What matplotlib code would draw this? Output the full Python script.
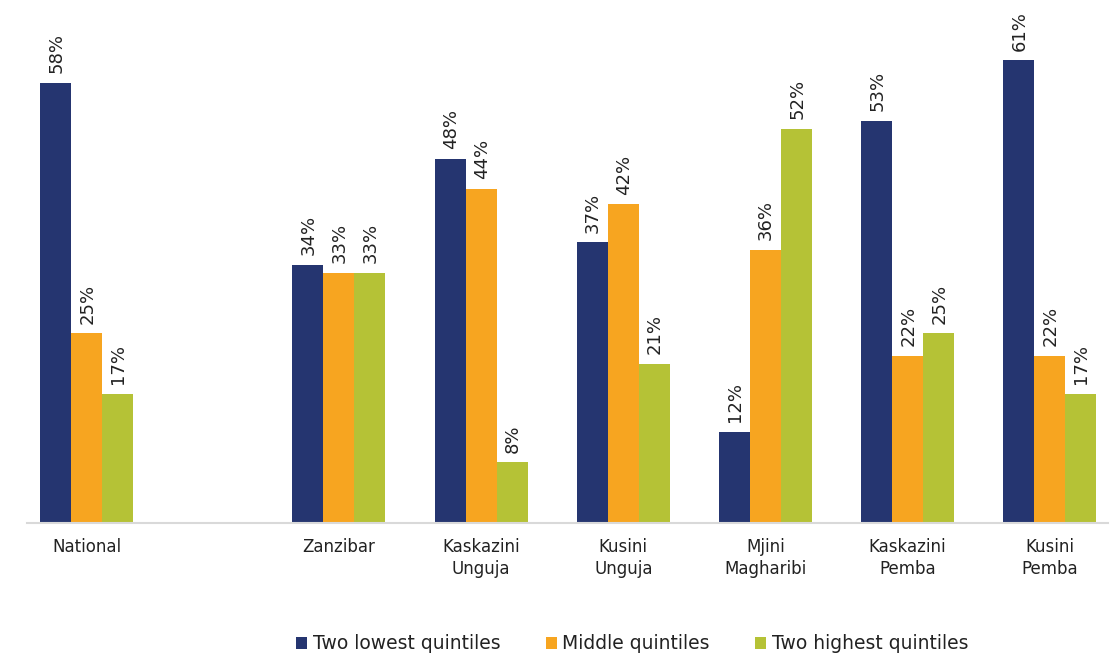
import matplotlib
matplotlib.use("Agg")
import matplotlib.pyplot as plt
from matplotlib.patches import Patch

categories = ["National", "Zanzibar", "Kaskazini\nUnguja", "Kusini\nUnguja",
              "Mjini\nMagharibi", "Kaskazini\nPemba", "Kusini\nPemba"]
series_names = ["Two lowest quintiles", "Middle quintiles", "Two highest quintiles"]
lowest = [58, 34, 48, 37, 12, 53, 61]
middle = [25, 33, 44, 42, 36, 22, 22]
highest = [17, 33, 8, 21, 52, 25, 17]
colors = ["#253570", "#f7a520", "#b5c236"]

# category centres (extra gap after National)
positions = [0.0] + [1.775 + i for i in range(len(categories) - 1)]

fig = plt.figure(figsize=(11.14, 6.57), dpi=100)
ax = fig.add_axes([0.0242, 0.204, 0.9704, 0.796])

w = 0.218
offsets = [-w, 0, w]
for vals, col, off in zip([lowest, middle, highest], colors, offsets):
    xs = [p + off for p in positions]
    ax.bar(xs, vals, width=w, color=col, edgecolor="none")
    for x, v in zip(xs, vals):
        ax.annotate(f"{v}%", (x, v), xytext=(0.5, 7), textcoords="offset points",
                    rotation=90, ha="center", va="bottom", fontsize=13,
                    color="#222222")

ax.set_ylim(0, 68.94)
ax.set_xlim(positions[0] - 0.42, positions[-1] + 0.41)
for s in ["top", "right", "left"]:
    ax.spines[s].set_visible(False)
ax.spines["bottom"].set_color("#d9d9d9")
ax.spines["bottom"].set_linewidth(1.5)
ax.set_yticks([])
ax.set_xticks(positions)
ax.set_xticklabels(categories, fontsize=12, color="#222222", linespacing=1.3)
ax.tick_params(axis="x", length=0, pad=11)

handles = [Patch(facecolor=c, edgecolor="none") for c in colors]
fig.legend(handles, series_names, loc="center", bbox_to_anchor=(0.5675, 0.02),
           ncol=3, frameon=False, fontsize=13.5, handlelength=0.6,
           handleheight=0.6, handletextpad=0.3, columnspacing=2.4,
           labelcolor="#222222")

fig.savefig("out.png", dpi=100)
